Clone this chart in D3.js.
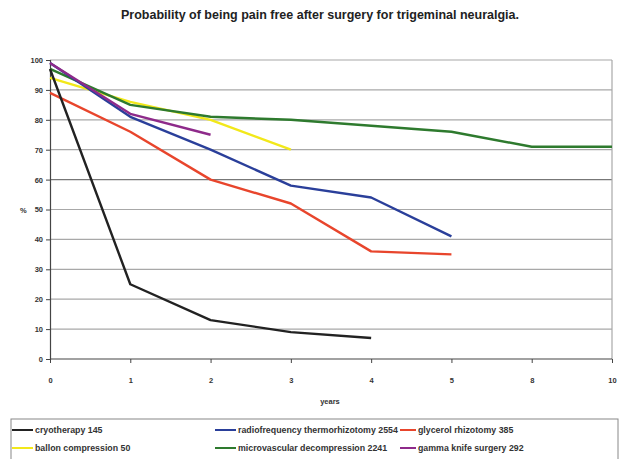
<!DOCTYPE html>
<html><head><meta charset="utf-8">
<script src="https://cdn.jsdelivr.net/npm/d3@7"></script>
<style>body{margin:0;background:#fff}svg{display:block;font-family:"Liberation Sans",Arial,sans-serif}</style>
</head><body><svg id="c" width="622" height="459"></svg>
<script>
const years = ["0","1","2","3","4","5","8","10"];
const yTicks = [0,10,20,30,40,50,60,70,80,90,100];
const seriesNames = ["cryotherapy 145","radiofrequency thermorhizotomy 2554","glycerol rhizotomy 385","ballon compression 50","microvascular decompression 2241","gamma knife surgery 292"];
const seriesColors = ["#222222","#2a3f9a","#e8452c","#f2e81a","#2e7a2e","#8e2a8a"];
const cryotherapy = [97,25,13,9,7];
const radiofrequency = [99,81,70,58,54,41];
const glycerol = [89,76,60,52,36,35];
const ballon = [94,86,80,70];
const microvascular = [97,85,81,80,78,76,71,71];
const gammaKnife = [99,82,75];
const seriesValues = [cryotherapy,radiofrequency,glycerol,ballon,microvascular,gammaKnife];
const drawOrder = [3,4,2,1,5,0];

const svg = d3.select("#c");
const L=50,R=612,T=60,B=359;
const x = d3.scalePoint().domain(years).range([L,R]);
const y = d3.scaleLinear().domain([0,100]).range([B,T]);

svg.append("text").attr("x",320).attr("y",19).attr("text-anchor","middle")
  .attr("font-size",12.5).attr("font-weight","bold").attr("fill","#222")
  .text("Probability of being pain free after surgery for trigeminal neuralgia.");

// gridlines
svg.append("g").selectAll("line").data(yTicks.filter(d=>d>0)).join("line")
  .attr("x1",L).attr("x2",R).attr("y1",d=>y(d)).attr("y2",d=>y(d))
  .attr("stroke",d=>d===60?"#777":"#a8a8a8").attr("stroke-width",1.2);
svg.append("line").attr("x1",R).attr("x2",R).attr("y1",T).attr("y2",B).attr("stroke","#a8a8a8").attr("stroke-width",1.2);

// axes
const ya = svg.append("g").attr("transform",`translate(${L},0)`)
  .call(d3.axisLeft(y).tickValues(yTicks).tickSize(4).tickPadding(3));
const xa = svg.append("g").attr("transform",`translate(0,${B})`)
  .call(d3.axisBottom(x).tickSize(4).tickPadding(15));
[ya,xa].forEach(a=>{
  a.select(".domain").attr("stroke","#444").attr("stroke-width",1.2);
  a.selectAll(".tick line").attr("stroke","#444");
  a.selectAll("text").attr("font-size",7.5).attr("font-weight","bold").attr("fill","#333").attr("font-family","Liberation Sans, Arial, sans-serif");
});
xa.select(".domain").attr("d",`M${L},0H${R}`);

svg.append("text").attr("x",20).attr("y",y(50)+3).attr("font-size",7.5).attr("font-weight","bold").attr("fill","#333").text("%");
svg.append("text").attr("x",330).attr("y",404).attr("text-anchor","middle").attr("font-size",7.5).attr("font-weight","bold").attr("fill","#333").text("years");

// lines
const line = d3.line().x((d,i)=>x(years[i])).y(d=>y(d));
svg.append("g").selectAll("path").data(drawOrder).join("path")
  .attr("d",i=>line(seriesValues[i])).attr("fill","none")
  .attr("stroke",i=>seriesColors[i]).attr("stroke-width",2.4).attr("stroke-linejoin","round");

// legend
svg.append("rect").attr("x",11).attr("y",419).attr("width",607).attr("height",50)
  .attr("fill","none").attr("stroke","#888").attr("stroke-width",1);
const colX = [12,215,400];
const rowY = [430,448];
const lg = svg.append("g").selectAll("g").data(seriesNames).join("g")
  .attr("transform",(d,i)=>`translate(${colX[i%3]},${rowY[Math.floor(i/3)]})`);
lg.append("line").attr("x1",0).attr("x2",(d,i)=>i%3===2?16:21).attr("y1",0).attr("y2",0)
  .attr("stroke",(d,i)=>seriesColors[i]).attr("stroke-width",2);
lg.append("text").attr("x",(d,i)=>i%3===2?18:23).attr("y",3).attr("font-size",8.8).attr("font-weight","bold").attr("fill","#333").text(d=>d);
</script></body></html>
